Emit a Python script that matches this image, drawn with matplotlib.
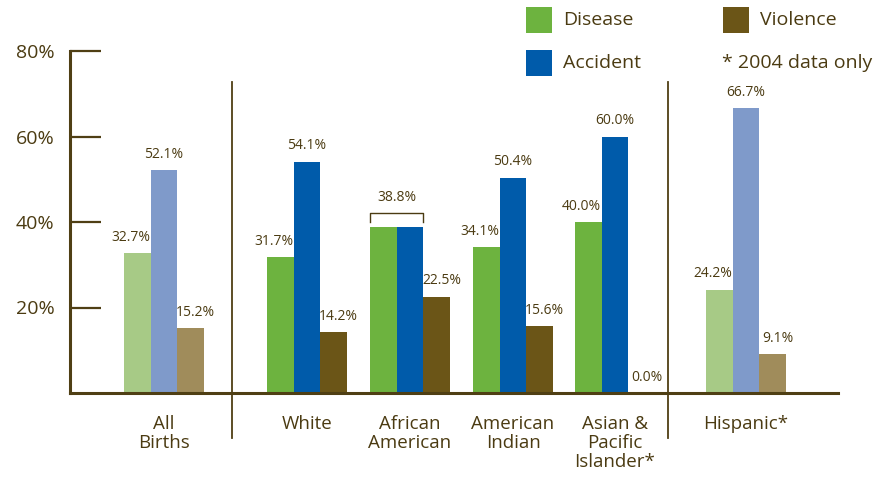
import numpy as np
import matplotlib.pyplot as plt
from matplotlib.patches import Rectangle

plt.rcParams['font.family'] = ['Open Sans', 'DejaVu Sans']

groups = ["All\nBirths", "White", "African\nAmerican", "American\nIndian",
          "Asian &\nPacific\nIslander*", "Hispanic*"]
disease = [32.7, 31.7, 38.8, 34.1, 40.0, 24.2]
accident = [52.1, 54.1, 38.8, 50.4, 60.0, 66.7]
violence = [15.2, 14.2, 22.5, 15.6, 0.0, 9.1]
yticks = [20, 40, 60, 80]

# group centres (pixels from the y axis) and which groups are drawn pale
centers = np.array([94, 237, 340, 443, 545, 676])
pale = [True, False, False, False, False, True]
bw = 26.5

dark = ["#6db33f", "#005baa", "#6b5517"]
light = ["#a7ca86", "#7f9aca", "#a08c5b"]
txt = "#4b3b12"
axis_col = "#4f3f14"

W, H = 894, 479
fig = plt.figure(figsize=(W / 100, H / 100), dpi=100)
ax = fig.add_axes([70 / W, (H - 393) / H, 768 / W, 342 / H])
ax.set_xlim(0, 768)
ax.set_ylim(0, 80)

series = [disease, accident, violence]
lab_dx = [-7, 0, 5]
for k, vals in enumerate(series):
    xs = centers + (k - 1) * bw
    cols = [light[k] if p else dark[k] for p in pale]
    ax.bar(xs, vals, width=bw, color=cols, linewidth=0, zorder=2)
    for i, (x, v) in enumerate(zip(xs, vals)):
        if i == 2 and k < 2:
            continue  # shared label drawn with bracket
        ax.annotate(f"{v:.1f}%", (x, v), xytext=(lab_dx[k] * 0.72, 6),
                    textcoords="offset points", ha="center", va="bottom",
                    fontsize=10, color=txt)

# bracket for the two equal African American bars
aa = centers[2]
top = disease[2] + 3.3
ax.plot([aa - 1.5 * bw, aa - 1.5 * bw, aa + 0.5 * bw, aa + 0.5 * bw],
        [top - 2.1, top, top, top - 2.1], color=txt, lw=1.0, zorder=3)
ax.annotate(f"{disease[2]:.1f}%", (aa - 0.5 * bw, top), xytext=(0, 6),
            textcoords="offset points", ha="center", va="bottom",
            fontsize=10, color=txt)

# group separators
for sx in [162, 598]:
    ax.plot([sx, sx], [-10.5, 72.7], color=axis_col, lw=1.3, clip_on=False)

for i, g in enumerate(groups):
    ax.text(centers[i], -5.2, g, ha="center", va="top", fontsize=13.5,
            color=txt, linespacing=1.08)

for s in ["top", "right"]:
    ax.spines[s].set_visible(False)
ax.spines["left"].set_color(axis_col)
ax.spines["bottom"].set_color(axis_col)
ax.spines["left"].set_linewidth(2.2)
ax.spines["bottom"].set_linewidth(2.2)
ax.set_xticks([])
ax.set_yticks(yticks)
ax.set_yticklabels([f"{t}%" for t in yticks])
ax.tick_params(axis="y", direction="in", length=22, width=1.6, color=axis_col,
               pad=11, labelsize=14, labelcolor=txt)

# legend
legend = [("Disease", dark[0], 526, 7), ("Accident", dark[1], 526, 50),
          ("Violence", dark[2], 723, 7)]
for name, c, lx, ly in legend:
    fig.add_artist(Rectangle((lx / W, 1 - (ly + 26) / H), 26 / W, 26 / H,
                             transform=fig.transFigure, color=c, lw=0))
    fig.text((lx + 37) / W, 1 - (ly + 13) / H, name, ha="left", va="center",
             fontsize=14, color=txt)
fig.text(722 / W, 1 - 63 / H, "* 2004 data only", ha="left", va="center",
         fontsize=14, color=txt)

fig.savefig("out.png", dpi=100)
